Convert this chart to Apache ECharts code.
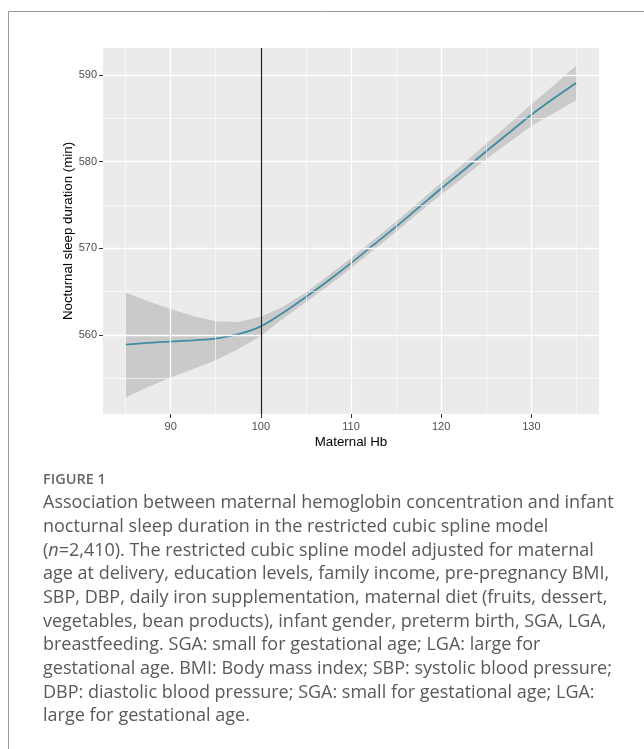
<!DOCTYPE html>
<html><head><meta charset="utf-8">
<script src="https://cdn.jsdelivr.net/npm/echarts@6/dist/echarts.min.js"></script>
<style>html,body{margin:0;padding:0;background:#fff}#c{width:644px;height:749px}</style>
</head><body><div id="c"></div>
<script>
// ---- data ----
const hb    = [85, 87.5, 90, 92.5, 95, 97.5, 100, 102.5, 105, 107.5, 110, 112.5, 115, 117.5, 120, 122.5, 125, 127.5, 130, 132.5, 135];
const fit   = [558.9, 559.1, 559.25, 559.4, 559.6, 560.1, 561.0, 562.6, 564.4, 566.3, 568.3, 570.4, 572.5, 574.7, 576.9, 579.0, 581.2, 583.3, 585.4, 587.3, 589.1];
const upper = [564.9, 563.9, 563.0, 562.2, 561.6, 561.5, 562.1, 563.3, 564.9, 566.9, 568.9, 571.0, 573.1, 575.3, 577.6, 579.8, 582.1, 584.3, 586.6, 588.8, 591.1];
const lower = [552.8, 554.0, 555.1, 556.1, 557.1, 558.4, 559.9, 561.9, 563.8, 565.7, 567.7, 569.8, 571.9, 574.1, 576.2, 578.2, 580.3, 582.2, 584.1, 585.6, 587.1];
const xTicks = [90, 100, 110, 120, 130];
const yTicks = [560, 570, 580, 590];
const xMinor = [85, 95, 105, 115, 125, 135];
const yMinor = [555, 565, 575, 585];
const refHb = 100;
const xTitle = 'Maternal Hb';
const yTitle = 'Nocturnal sleep duration (min)';
const figLabel = 'FIGURE 1';
const captionLines = [
  'Association between maternal hemoglobin concentration and infant',
  'nocturnal sleep duration in the restricted cubic spline model',
  '({i|n}=2,410). The restricted cubic spline model adjusted for maternal',
  'age at delivery, education levels, family income, pre-pregnancy BMI,',
  'SBP, DBP, daily iron supplementation, maternal diet (fruits, dessert,',
  'vegetables, bean products), infant gender, preterm birth, SGA, LGA,',
  'breastfeeding. SGA: small for gestational age; LGA: large for',
  'gestational age. BMI: Body mass index; SBP: systolic blood pressure;',
  'DBP: diastolic blood pressure; SGA: small for gestational age; LGA:',
  'large for gestational age.'
];

// ---- chart ----
const chart = echarts.init(document.getElementById('c'), null, {renderer: 'canvas'});
const gridLines = [];
xTicks.forEach(v => gridLines.push({xAxis: v, lineStyle: {width: 1.3}}));
xMinor.forEach(v => gridLines.push({xAxis: v, lineStyle: {width: 0.6}}));
yTicks.forEach(v => gridLines.push({yAxis: v, lineStyle: {width: 1.3}}));
yMinor.forEach(v => gridLines.push({yAxis: v, lineStyle: {width: 0.6}}));

const captionFont = '"Open Sans", sans-serif';
const capSize = 18;
const graphics = [
  {type: 'line', shape: {x1: 8.5, y1: 11.5, x2: 644, y2: 11.5}, style: {stroke: '#9a9a9a', lineWidth: 1}},
  {type: 'line', shape: {x1: 8.5, y1: 11.5, x2: 8.5, y2: 749}, style: {stroke: '#9a9a9a', lineWidth: 1}},
  {type: 'text', left: 43, top: 472.5, style: {text: figLabel, font: '600 14.5px ' + captionFont, fill: '#666'}}
];
captionLines.forEach((t, i) => {
  graphics.push({type: 'text', left: 43, top: 494 + i * 23.7, style: {
    text: t, font: capSize + 'px ' + captionFont, fill: '#595959',
    rich: {i: {fontStyle: 'italic', fontSize: capSize, fontFamily: 'Open Sans', fill: '#595959'}}
  }});
});

const axisFont = 'Liberation Sans, Arial';
chart.setOption({
  animation: false,
  grid: {left: 103, top: 48, width: 496, height: 366, show: true, backgroundColor: '#ebebeb', borderWidth: 0},
  xAxis: {
    type: 'value', min: 82.5, max: 137.5,
    axisLine: {show: false},
    splitLine: {show: false},
    axisTick: {show: true, customValues: xTicks, length: 4, lineStyle: {color: '#333', width: 1}},
    axisLabel: {customValues: xTicks, color: '#4d4d4d', fontSize: 11, fontFamily: axisFont, margin: 7},
    name: xTitle, nameLocation: 'middle', nameGap: 22, nameMoveOverlap: false,
    nameTextStyle: {color: '#000', fontSize: 13.3, fontFamily: axisFont}
  },
  yAxis: {
    type: 'value', min: 550.9, max: 593.1,
    axisLine: {show: false},
    splitLine: {show: false},
    axisTick: {show: true, customValues: yTicks, length: 4, lineStyle: {color: '#333', width: 1}},
    axisLabel: {customValues: yTicks, color: '#4d4d4d', fontSize: 11, fontFamily: axisFont, margin: 6},
    name: yTitle, nameLocation: 'middle', nameGap: 28, nameMoveOverlap: false,
    nameTextStyle: {color: '#000', fontSize: 13.3, fontFamily: axisFont}
  },
  graphic: graphics,
  series: [
    {
      name: 'grid', type: 'line', data: [], z: 1, silent: true,
      markLine: {silent: true, symbol: ['none', 'none'], label: {show: false},
        lineStyle: {color: '#ffffff', type: 'solid'}, data: gridLines, animation: false}
    },
    {
      name: 'band', type: 'custom', z: 2, silent: true,
      data: hb.map((x, i) => [x, lower[i], upper[i]]),
      renderItem: function (params, api) {
        if (params.dataIndex !== 0) return null;
        const pts = [];
        for (let i = 0; i < hb.length; i++) pts.push(api.coord([hb[i], upper[i]]));
        for (let i = hb.length - 1; i >= 0; i--) pts.push(api.coord([hb[i], lower[i]]));
        return {type: 'polygon', shape: {points: pts}, style: {fill: 'rgba(153,153,153,0.4)', stroke: null}};
      }
    },
    {
      name: 'fit', type: 'line', z: 3, symbol: 'none', smooth: 0.3,
      data: hb.map((x, i) => [x, fit[i]]),
      lineStyle: {color: '#3f8ca5', width: 1.8},
      markLine: {silent: true, symbol: ['none', 'none'], label: {show: false},
        lineStyle: {color: '#222', type: 'solid', width: 1.2},
        data: [{xAxis: refHb}], animation: false}
    }
  ]
});
</script></body></html>
